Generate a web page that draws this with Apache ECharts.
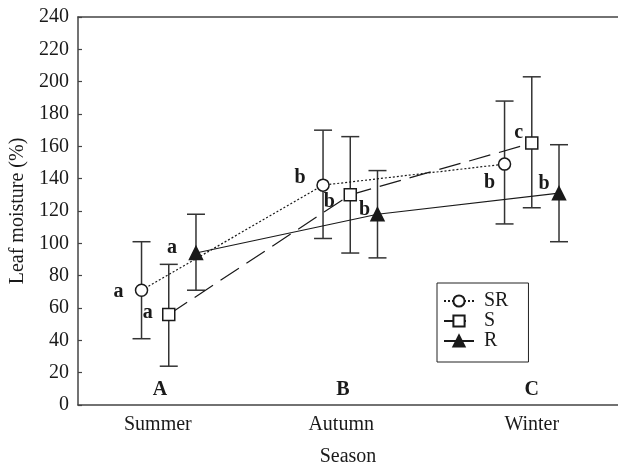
<!DOCTYPE html>
<html>
<head>
<meta charset="utf-8">
<script src="https://cdn.jsdelivr.net/npm/echarts@6/dist/echarts.min.js"></script>
<style>
html,body{margin:0;padding:0;background:#fff;}
#chart{width:618px;height:472px;}
</style>
</head>
<body>
<div id="chart"></div>
<script>
// ---- data ----
const seasons = ['Summer', 'Autumn', 'Winter'];
const seasonLetters = ['A', 'B', 'C'];
const yTicks = [0, 20, 40, 60, 80, 100, 120, 140, 160, 180, 200, 220, 240];

const srMean = [71, 136, 149];
const srLow  = [41, 103, 112];
const srHigh = [101, 170, 188];
const srLetters = ['a', 'b', 'b'];

const sMean = [56, 130, 162];
const sLow  = [24, 94, 122];
const sHigh = [87, 166, 203];
const sLetters = ['a', 'b', 'c'];

const rMean = [94, 118, 131];
const rLow  = [71, 91, 101];
const rHigh = [118, 145, 161];
const rLetters = ['a', 'b', 'b'];

// ---- layout / style (not data) ----
const FONT = '"Liberation Serif", "DejaVu Serif", serif';
const INK = '#1a1a1a';
const groupOffset = { SR: -0.15, S: 0, R: 0.15 };
const seasonLabelPos = [-0.06, 0.95, 2.0];
const seasonLetterPos = [-0.048, 0.96, 2.0];
const letterOffsets = {
  SR: [[-23, 2], [-23, -7], [-15, 19]],
  S:  [[-21, -2], [-21, 7], [-13, -10]],
  R:  [[-24, -5], [-13, -4], [-15, -9]]
};

function lineSeries(name, means, letters, symbol, size, fill, dash) {
  return {
    type: 'line',
    name: name,
    z: 5,
    symbol: symbol,
    symbolSize: size,
    showAllSymbol: true,
    lineStyle: { color: INK, width: 1.2, type: dash },
    itemStyle: { color: fill, borderColor: INK, borderWidth: 1.5 },
    emphasis: { disabled: true },
    data: means.map((m, i) => ({
      value: [i + groupOffset[name], m],
      label: {
        show: true,
        formatter: letters[i],
        position: 'inside',
        offset: letterOffsets[name][i],
        fontFamily: FONT,
        fontWeight: 'bold',
        fontSize: 20,
        color: INK
      }
    }))
  };
}

function errSeries(name, low, high) {
  return {
    type: 'custom',
    name: name + '-err',
    z: 3,
    silent: true,
    data: low.map((l, i) => [i + groupOffset[name], l, high[i]]),
    renderItem: function (params, api) {
      const x = api.value(0);
      const pLo = api.coord([x, api.value(1)]);
      const pHi = api.coord([x, api.value(2)]);
      const hw = 9;
      const st = { stroke: '#333', lineWidth: 1.5 };
      return {
        type: 'group',
        children: [
          { type: 'line', shape: { x1: pLo[0], y1: pLo[1], x2: pHi[0], y2: pHi[1] }, style: st },
          { type: 'line', shape: { x1: pLo[0] - hw, y1: pLo[1], x2: pLo[0] + hw, y2: pLo[1] }, style: st },
          { type: 'line', shape: { x1: pHi[0] - hw, y1: pHi[1], x2: pHi[0] + hw, y2: pHi[1] }, style: st }
        ]
      };
    }
  };
}

const chart = echarts.init(document.getElementById('chart'), null, { renderer: 'canvas' });

const option = {
  backgroundColor: '#fff',
  animation: false,
  grid: { left: 78, right: 0, top: 17, bottom: 62, containLabel: false },
  legend: {
    data: ['SR', 'S', 'R'],
    orient: 'vertical',
    left: 437,
    top: 283,
    width: 94,
    padding: [8, 20, 11, 6],
    itemWidth: 30,
    itemHeight: 14,
    itemGap: 0,
    borderColor: '#222',
    borderWidth: 1,
    backgroundColor: '#fff',
    textStyle: { fontFamily: FONT, fontSize: 20, color: INK, lineHeight: 20, padding: [0, 0, 0, 5] }
  },
  xAxis: [
    {
      type: 'value',
      min: -0.5,
      max: 2.475,
      name: 'Season',
      nameLocation: 'middle',
      nameGap: 42,
      nameTextStyle: { fontFamily: FONT, fontSize: 20, color: INK },
      splitLine: { show: false },
      axisTick: { show: false },
      axisLine: { show: true, onZero: false, lineStyle: { color: '#444', width: 1.5 } },
      axisLabel: {
        customValues: seasonLabelPos,
        fontFamily: FONT,
        fontSize: 20,
        color: INK,
        margin: 10,
        formatter: function (v) { return seasons[Math.round(v)]; }
      }
    },
    {
      type: 'value',
      position: 'top',
      min: -0.5,
      max: 2.475,
      splitLine: { show: false },
      axisTick: { show: false },
      axisLabel: { show: false },
      axisLine: { show: true, onZero: false, lineStyle: { color: '#444', width: 1.5 } }
    }
  ],
  yAxis: {
    type: 'value',
    min: yTicks[0],
    max: yTicks[yTicks.length - 1],
    interval: yTicks[1] - yTicks[0],
    name: 'Leaf moisture (%)',
    nameLocation: 'middle',
    nameGap: 42,
    nameTextStyle: { fontFamily: FONT, fontSize: 20, color: INK },
    splitLine: { show: false },
    axisLine: { show: true, onZero: false, lineStyle: { color: '#444', width: 1.5 } },
    axisTick: { show: true, inside: true, length: 4, lineStyle: { color: '#444', width: 1.2 } },
    axisLabel: { fontFamily: FONT, fontSize: 20, color: INK, margin: 9 }
  },
  series: [
    errSeries('SR', srLow, srHigh),
    errSeries('S', sLow, sHigh),
    errSeries('R', rLow, rHigh),
    lineSeries('SR', srMean, srLetters, 'circle', 12, '#fff', [2, 2]),
    lineSeries('S', sMean, sLetters, 'rect', 12, '#fff', [22, 9]),
    lineSeries('R', rMean, rLetters, 'triangle', 13, INK, 'solid'),
    {
      type: 'custom',
      name: 'groups',
      silent: true,
      z: 6,
      data: seasonLetterPos.map((x, i) => [x, 0]),
      renderItem: function (params, api) {
        const p = api.coord([api.value(0), api.value(1)]);
        return {
          type: 'text',
          x: p[0],
          y: p[1] - 15,
          style: {
            text: seasonLetters[params.dataIndex],
            fontFamily: FONT,
            fontWeight: 'bold',
            fontSize: 20,
            fill: INK,
            align: 'center',
            verticalAlign: 'middle'
          }
        };
      }
    }
  ]
};
chart.setOption(option);
</script>
</body>
</html>
